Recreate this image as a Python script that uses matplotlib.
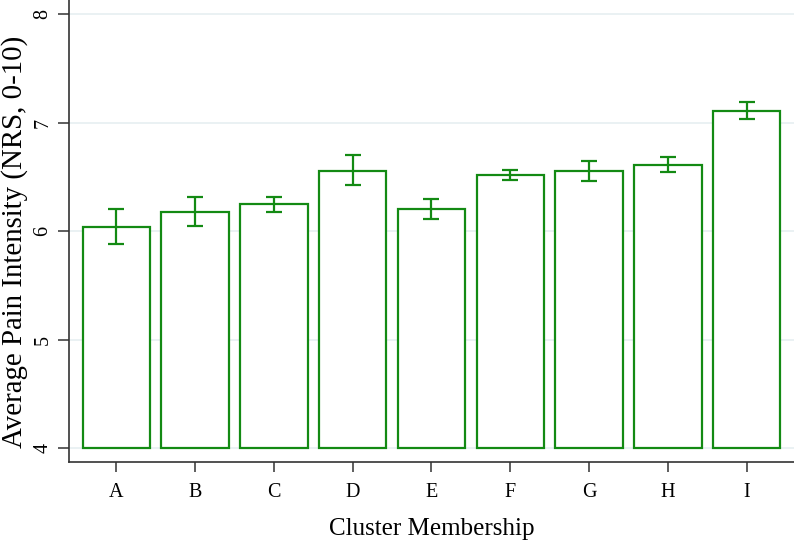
import matplotlib
matplotlib.use("Agg")
import matplotlib.pyplot as plt

categories = ["A", "B", "C", "D", "E", "F", "G", "H", "I"]
means = [6.04, 6.18, 6.245, 6.555, 6.20, 6.515, 6.55, 6.61, 7.11]
err_low = [5.88, 6.05, 6.18, 6.42, 6.11, 6.47, 6.46, 6.54, 7.035]
err_high = [6.20, 6.31, 6.31, 6.70, 6.295, 6.565, 6.65, 6.68, 7.19]
yticks = [4, 5, 6, 7, 8]

plt.rcParams['font.family'] = ['Liberation Serif', 'DejaVu Serif']
green = "#138a13"

fig = plt.figure(figsize=(7.94, 5.42), dpi=100)
ax = fig.add_axes([0.0869, 0.148, 0.913, 0.852])

x = list(range(len(categories)))
base = 4
ax.bar(x, [m - base for m in means], bottom=base, width=0.855,
       facecolor="white", edgecolor=green, linewidth=1.6, zorder=3)
yerr = [[m - l for m, l in zip(means, err_low)], [h - m for m, h in zip(means, err_high)]]
ax.errorbar(x, means, yerr=yerr, fmt="none", ecolor=green, elinewidth=1.6,
            capsize=5.5, capthick=1.6, zorder=4)

ax.set_xlim(-0.6, 8.6)
ax.set_ylim(3.874, 8.129)
ax.set_yticks(yticks)
ax.set_yticklabels([str(t) for t in yticks], rotation=90, va="center", fontsize=14.5)
ax.set_xticks(x)
ax.set_xticklabels(categories, fontsize=14.5)
for t in yticks:
    ax.axhline(t, color="#e6eff1", linewidth=1.2, zorder=1)

for s in ["top", "right"]:
    ax.spines[s].set_visible(False)
for s in ["left", "bottom"]:
    ax.spines[s].set_color("#333333")
    ax.spines[s].set_linewidth(1.2)
ax.tick_params(axis="y", length=8, width=1.1, color="#333333", pad=4)
ax.tick_params(axis="x", length=7, width=1.1, color="#333333", pad=8)

ax.set_ylabel("Average Pain Intensity (NRS, 0-10)", fontsize=20.8)
ax.yaxis.set_label_coords(-0.056, 0.476)
ax.set_xlabel("Cluster Membership", fontsize=18, labelpad=12)

fig.savefig("out.png", dpi=100)
